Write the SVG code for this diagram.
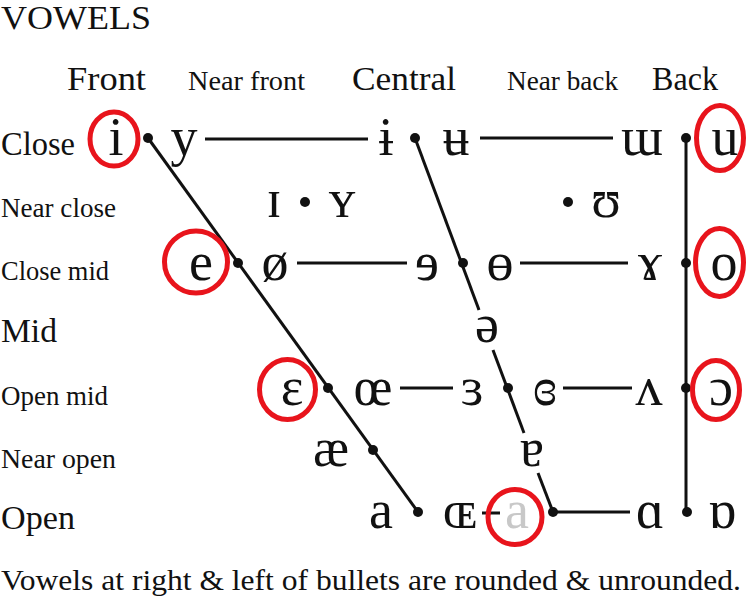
<svg xmlns="http://www.w3.org/2000/svg" width="746" height="600" viewBox="0 0 746 600">
<style>
text{font-family:"Liberation Serif","DejaVu Serif",serif;fill:#111}
.t{font-size:34px}
.h{font-size:34px}
.hs{font-size:28px}
.r{font-size:28px}
.rb{font-size:33px}
.f{font-size:29px}
.v{font-size:54px;text-anchor:middle}
.g{fill:#c8c8c8}
.ring{fill:none;stroke:#e8141c;stroke-width:5}
.ln{stroke:#111;stroke-width:3;fill:none}
.dot{fill:#111}
</style>
<rect width="746" height="600" fill="#fff"/>
<text class="t" x="1" y="29" textLength="150" lengthAdjust="spacingAndGlyphs">VOWELS</text>
<g id="headers">
<text class="h" x="67" y="90" textLength="79" lengthAdjust="spacingAndGlyphs">Front</text>
<text class="hs" x="188" y="90" textLength="117" lengthAdjust="spacingAndGlyphs">Near front</text>
<text class="h" x="352" y="90" textLength="104" lengthAdjust="spacingAndGlyphs">Central</text>
<text class="hs" x="507" y="90" textLength="111" lengthAdjust="spacingAndGlyphs">Near back</text>
<text class="h" x="652" y="90" textLength="66" lengthAdjust="spacingAndGlyphs">Back</text>
</g>
<g id="rows">
<text class="h" x="1" y="155" textLength="74" lengthAdjust="spacingAndGlyphs">Close</text>
<text class="r" x="1" y="217" textLength="115" lengthAdjust="spacingAndGlyphs">Near close</text>
<text class="r" x="1" y="280" textLength="108" lengthAdjust="spacingAndGlyphs">Close mid</text>
<text class="rb" x="1" y="342" textLength="56" lengthAdjust="spacingAndGlyphs">Mid</text>
<text class="r" x="1" y="405" textLength="107" lengthAdjust="spacingAndGlyphs">Open mid</text>
<text class="r" x="1" y="468" textLength="115" lengthAdjust="spacingAndGlyphs">Near open</text>
<text class="rb" x="1" y="529" textLength="74" lengthAdjust="spacingAndGlyphs">Open</text>
</g>
<g id="connectors">
<line class="ln" x1="148" y1="138" x2="418" y2="512"/>
<line class="ln" x1="415" y1="138" x2="479" y2="310"/>
<line class="ln" x1="493" y1="350" x2="524" y2="433"/>
<line class="ln" x1="538" y1="473" x2="553" y2="512"/>
<line class="ln" x1="686" y1="138" x2="686" y2="512"/>
<line class="ln" x1="205" y1="139" x2="368" y2="139"/>
<line class="ln" x1="480" y1="138" x2="613" y2="138"/>
<line class="ln" x1="297" y1="263" x2="407" y2="263"/>
<line class="ln" x1="520" y1="263" x2="628" y2="263"/>
<line class="ln" x1="400" y1="388" x2="453" y2="388"/>
<line class="ln" x1="563" y1="388" x2="632" y2="388"/>
<line class="ln" x1="553" y1="512" x2="630" y2="512"/>
<line class="ln" x1="482" y1="513" x2="500" y2="513"/>
</g>
<g id="dots">
<circle class="dot" cx="148" cy="138" r="5"/>
<circle class="dot" cx="415" cy="138" r="5"/>
<circle class="dot" cx="686" cy="138" r="5"/>
<circle class="dot" cx="305" cy="202" r="5"/>
<circle class="dot" cx="568" cy="202" r="5"/>
<circle class="dot" cx="238" cy="263" r="5"/>
<circle class="dot" cx="463" cy="263" r="5"/>
<circle class="dot" cx="686" cy="263" r="5"/>
<circle class="dot" cx="328" cy="388" r="5"/>
<circle class="dot" cx="508" cy="388" r="5"/>
<circle class="dot" cx="686" cy="388" r="5"/>
<circle class="dot" cx="373" cy="450" r="5"/>
<circle class="dot" cx="418" cy="512" r="5"/>
<circle class="dot" cx="553" cy="512" r="5"/>
<circle class="dot" cx="687" cy="512" r="5"/>
</g>
<g id="close">
<text class="v" x="116" y="155">i</text>
<text class="v" x="184" y="155">y</text>
<text class="v" x="386" y="155">ɨ</text>
<text class="v" x="456" y="155">ʉ</text>
<text class="v" x="642" y="155">ɯ</text>
<text class="v" x="725" y="155">u</text>
</g>
<g id="near-close">
<text class="v" x="274" y="217">ɪ</text>
<text class="v" x="342" y="217">ʏ</text>
<text class="v" x="606" y="217">ʊ</text>
</g>
<g id="close-mid">
<text class="v" x="201" y="280">e</text>
<text class="v" x="275" y="280">ø</text>
<text class="v" x="427" y="280">ɘ</text>
<text class="v" x="500" y="280">ɵ</text>
<text class="v" x="650" y="280">ɤ</text>
<text class="v" x="724" y="280">o</text>
</g>
<g id="mid">
<text class="v" x="487" y="342">ə</text>
</g>
<g id="open-mid">
<text class="v" x="292" y="405">ɛ</text>
<text class="v" x="373" y="405">œ</text>
<text class="v" x="472" y="405">ɜ</text>
<text class="v" x="545" y="405">ɞ</text>
<text class="v" x="649" y="405">ʌ</text>
<text class="v" x="721" y="405">ɔ</text>
</g>
<g id="near-open">
<text class="v" x="331" y="466">æ</text>
<text class="v" x="532" y="466">ɐ</text>
</g>
<g id="open">
<text class="v" x="381" y="528">a</text>
<text class="v" x="460" y="528">ɶ</text>
<text class="v g" x="517" y="528">a</text>
<text class="v" x="650" y="528">ɑ</text>
<text class="v" x="722" y="528">ɒ</text>
</g>
<g id="rings">
<ellipse class="ring" cx="114" cy="139" rx="24" ry="27"/>
<ellipse class="ring" cx="720" cy="138" rx="23.5" ry="32.5"/>
<ellipse class="ring" cx="196" cy="262" rx="31.5" ry="31"/>
<ellipse class="ring" cx="719.5" cy="262.5" rx="24" ry="34"/>
<ellipse class="ring" cx="287.5" cy="389.5" rx="28" ry="30"/>
<ellipse class="ring" cx="716" cy="390" rx="23.5" ry="29.5"/>
<ellipse class="ring" cx="515" cy="517" rx="27" ry="27.5"/>
</g>
<text class="f" x="1" y="590" textLength="740" lengthAdjust="spacingAndGlyphs">Vowels at right &amp; left of bullets are rounded &amp; unrounded.</text>
</svg>
